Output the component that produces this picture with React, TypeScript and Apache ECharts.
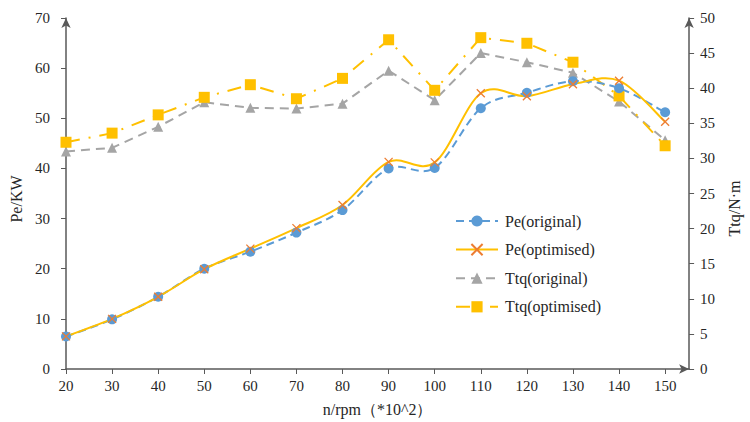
import React, { useEffect, useRef } from "react";
import * as echarts from "echarts";

const rpm = [20, 30, 40, 50, 60, 70, 80, 90, 100, 110, 120, 130, 140, 150];
const peOriginal = [6.5, 9.9, 14.4, 20.0, 23.4, 27.2, 31.7, 40.0, 40.1, 52.0, 55.1, 57.4, 56.0, 51.2];
const peOptimised = [6.5, 10.0, 14.4, 19.9, 24.0, 28.1, 32.7, 41.3, 41.2, 55.0, 54.4, 56.8, 57.5, 49.3];
const ttqOriginal = [31.0, 31.5, 34.5, 38.0, 37.2, 37.1, 37.8, 42.5, 38.3, 45.0, 43.7, 42.2, 38.1, 32.6];
const ttqOptimised = [32.3, 33.6, 36.2, 38.7, 40.5, 38.5, 41.4, 46.9, 39.7, 47.2, 46.4, 43.7, 38.9, 31.8];

const FONT = "'Liberation Serif', 'Times New Roman', Times, serif";
const AXIS_COLOR = "#595959";
const TEXT_COLOR = "#262626";

const pairs = (ys: number[]) => rpm.map((x, i) => [x, ys[i]]);

// Excel-like smoothed curve (Catmull-Rom -> cubic Bezier) drawn through the axis scales
function smoothCurve(ys: number[], stroke: string, lineDash: number[] | null, z: number) {
  return {
    type: "custom",
    name: "_curve",
    yAxisIndex: 0,
    z,
    silent: true,
    data: pairs(ys),
    encode: { x: 0, y: 1 },
    renderItem: (params: any, api: any) => {
      if (params.dataIndex !== 0) return null;
      const pts = rpm.map((x, i) => api.coord([x, ys[i]]));
      let d = `M${pts[0][0]},${pts[0][1]}`;
      for (let i = 0; i < pts.length - 1; i++) {
        const p0 = pts[i - 1] || pts[i];
        const p1 = pts[i];
        const p2 = pts[i + 1];
        const p3 = pts[i + 2] || pts[i + 1];
        const c1x = p1[0] + (p2[0] - p0[0]) / 6;
        const c1y = p1[1] + (p2[1] - p0[1]) / 6;
        const c2x = p2[0] - (p3[0] - p1[0]) / 6;
        const c2y = p2[1] - (p3[1] - p1[1]) / 6;
        d += ` C${c1x},${c1y} ${c2x},${c2y} ${p2[0]},${p2[1]}`;
      }
      const style: any = { fill: "none", stroke, lineWidth: 2 };
      if (lineDash) style.lineDash = lineDash;
      return { type: "path", shape: { pathData: d }, style };
    },
  };
}

export default function App() {
  const ref = useRef<HTMLDivElement>(null);
  useEffect(() => {
    if (!ref.current) return;
    const chart = echarts.init(ref.current, undefined, { renderer: "svg" });
    const axisLine = {
      show: true,
      lineStyle: { color: AXIS_COLOR, width: 1.5 },
      symbol: ["none", "arrow"],
      symbolSize: [7, 10],
    };
    chart.setOption({
      animation: false,
      backgroundColor: "#ffffff",
      textStyle: { fontFamily: FONT },
      grid: { left: 66, right: 54, top: 18, bottom: 53, containLabel: false },
      legend: {
        orient: "vertical",
        left: 450,
        top: 208,
        itemWidth: 42,
        itemHeight: 14,
        itemGap: 12.6,
        textStyle: { fontFamily: FONT, fontSize: 16, color: TEXT_COLOR, padding: [0, 0, 0, 2] },
        data: [
          { name: "Pe(original)", lineStyle: { opacity: 1 } },
          { name: "Pe(optimised)", lineStyle: { opacity: 1 } },
          { name: "Ttq(original)" },
          { name: "Ttq(optimised)" },
        ],
      },
      xAxis: {
        type: "value",
        min: 20,
        max: 155.2,
        interval: 10,
        name: "n/rpm（*10^2）",
        nameLocation: "middle",
        nameGap: 32,
        nameTextStyle: { fontFamily: FONT, fontSize: 16, color: TEXT_COLOR },
        axisLine,
        axisTick: { show: true, length: 5, lineStyle: { color: AXIS_COLOR }, customValues: rpm },
        axisLabel: { fontFamily: FONT, fontSize: 15, color: TEXT_COLOR, margin: 9, customValues: rpm },
        splitLine: { show: false },
      },
      yAxis: [
        {
          type: "value",
          min: 0,
          max: 70,
          interval: 10,
          position: "left",
          name: "Pe/KW",
          nameLocation: "middle",
          nameGap: 39,
          nameTextStyle: { fontFamily: FONT, fontSize: 16, color: TEXT_COLOR, padding: [0, 11, 0, 0] },
          axisLine,
          axisTick: { show: true, length: 5, lineStyle: { color: AXIS_COLOR } },
          axisLabel: { fontFamily: FONT, fontSize: 15, color: TEXT_COLOR, margin: 16 },
          splitLine: { show: false },
        },
        {
          type: "value",
          min: 0,
          max: 50,
          interval: 5,
          position: "right",
          name: "Ttq/N·m",
          nameLocation: "middle",
          nameRotate: 90,
          nameGap: 34,
          nameTextStyle: { fontFamily: FONT, fontSize: 16, color: TEXT_COLOR, padding: [0, 30, 0, 0] },
          axisLine,
          axisTick: { show: true, length: 5, lineStyle: { color: AXIS_COLOR } },
          axisLabel: { fontFamily: FONT, fontSize: 15, color: TEXT_COLOR, margin: 11 },
          splitLine: { show: false },
        },
      ],
      series: [
        {
          name: "Ttq(original)",
          type: "line",
          yAxisIndex: 1,
          data: pairs(ttqOriginal),
          symbol: "triangle",
          symbolSize: 10,
          lineStyle: { color: "#A5A5A5", width: 2, type: [9, 6] },
          itemStyle: { color: "#A5A5A5" },
          z: 2,
        },
        {
          name: "Ttq(optimised)",
          type: "line",
          yAxisIndex: 1,
          data: pairs(ttqOptimised),
          symbol: "rect",
          symbolSize: 11,
          lineStyle: { color: "#FFC000", width: 2, type: [14, 9, 2, 9] },
          itemStyle: { color: "#FFC000" },
          z: 3,
        },
        smoothCurve(peOriginal, "#5B9BD5", [8, 5], 4),
        smoothCurve(peOptimised, "#FFC000", null, 5),
        {
          name: "Pe(original)",
          type: "line",
          yAxisIndex: 0,
          data: pairs(peOriginal),
          symbol: "circle",
          symbolSize: 10,
          lineStyle: { color: "#5B9BD5", width: 2, type: [8, 5], opacity: 0 },
          itemStyle: { color: "#5B9BD5" },
          z: 6,
        },
        {
          name: "Pe(optimised)",
          type: "line",
          yAxisIndex: 0,
          data: pairs(peOptimised),
          symbol: "path://M0,0L10,10M10,0L0,10",
          symbolSize: 8,
          lineStyle: { color: "#FFC000", width: 2, opacity: 0 },
          itemStyle: { color: "transparent", borderColor: "#ED7D31", borderWidth: 1.3 },
          z: 7,
        },
      ],
    });
    return () => chart.dispose();
  }, []);
  return (
    <div
      ref={ref}
      style={{ position: "absolute", left: 0, top: 0, width: 750, height: 422 }}
    />
  );
}
